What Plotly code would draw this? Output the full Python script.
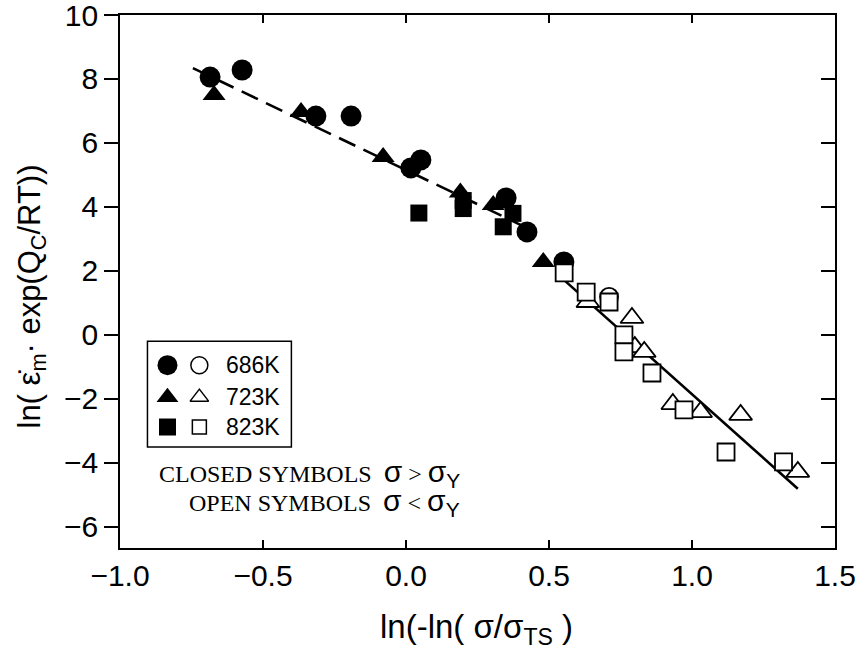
import plotly.graph_objects as go

# ---- data: ln(-ln(sigma/sigma_TS)) vs ln(strain-rate * exp(Qc/RT)) ----
# 686 K, closed (sigma > sigma_Y)
c686_x = [-0.685, -0.573, -0.315, -0.192, 0.017, 0.052, 0.350, 0.423, 0.552]
c686_y = [8.06, 8.28, 6.84, 6.84, 5.22, 5.47, 4.28, 3.22, 2.28]
# 686 K, open (sigma < sigma_Y)
o686_x = [0.710]
o686_y = [1.19]

# 723 K, closed
c723_x = [-0.671, -0.367, -0.080, 0.190, 0.305, 0.480]
c723_y = [7.50, 6.97, 5.56, 4.45, 4.06, 2.28]
# 723 K, open
o723_x = [0.636, 0.790, 0.800, 0.833, 0.933, 1.030, 1.170, 1.370]
o723_y = [1.03, 0.53, -0.38, -0.53, -2.16, -2.41, -2.50, -4.28]

# 823 K, closed
c823_x = [0.045, 0.200, 0.200, 0.340, 0.374]
c823_y = [3.81, 4.20, 3.95, 3.38, 3.80]
# 823 K, open
o823_x = [0.553, 0.630, 0.710, 0.762, 0.762, 0.860, 0.972, 1.119, 1.320]
o823_y = [1.94, 1.34, 1.03, 0.00, -0.53, -1.19, -2.34, -3.66, -3.97]

# fitted lines
fit_closed_x = [-0.745, 0.45]
fit_closed_y = [8.34, 3.23]
fit_open_x = [0.552, 1.37]
fit_open_y = [1.72, -4.81]

x_range = [-1.0, 1.5]
y_range = [-6.66, 10.0]
x_ticks = [-1.0, -0.5, 0.0, 0.5, 1.0, 1.5]
y_ticks = [-6, -4, -2, 0, 2, 4, 6, 8, 10]

legend_labels = ["686K", "723K", "823K"]
legend_symbols = ["circle", "triangle-up", "square"]
legend_sizes = [20, 19, 17]

SANS = "Liberation Sans, Arial, sans-serif"
SERIF = "Liberation Serif, Times New Roman, serif"

fig = go.Figure()

fig.add_trace(go.Scatter(x=fit_closed_x, y=fit_closed_y, mode="lines",
                         line=dict(color="black", width=2.6, dash="18px,9px"),
                         hoverinfo="skip"))
fig.add_trace(go.Scatter(x=fit_open_x, y=fit_open_y, mode="lines",
                         line=dict(color="black", width=2.6),
                         hoverinfo="skip"))


def closed(x, y, symbol, size):
    fig.add_trace(go.Scatter(x=x, y=y, mode="markers",
                             marker=dict(symbol=symbol, size=size, color="black",
                                         line=dict(width=0))))


def opened(x, y, symbol, size):
    fig.add_trace(go.Scatter(x=x, y=y, mode="markers",
                             marker=dict(symbol=symbol, size=size, color="white",
                                         line=dict(width=1.8, color="black"))))


closed(c686_x, c686_y, "circle", 21)
closed(c723_x, c723_y, "triangle-up", 20)
closed(c823_x, c823_y, "square", 17)
opened(o686_x, o686_y, "circle", 18)
opened(o723_x, o723_y, "triangle-up", 20)
opened(o823_x, o823_y, "square", 17)

# legend box drawn on an overlay axis spanning the plot area (0..1)
leg_rows = [0.343, 0.283, 0.227]
for i, (sym, sz) in enumerate(zip(legend_symbols, legend_sizes)):
    fig.add_trace(go.Scatter(x=[0.0664], y=[leg_rows[i]], mode="markers",
                             xaxis="x3", yaxis="y3",
                             marker=dict(symbol=sym, size=sz, color="black",
                                         line=dict(width=0))))
    fig.add_trace(go.Scatter(x=[0.111], y=[leg_rows[i]], mode="markers",
                             xaxis="x3", yaxis="y3",
                             marker=dict(symbol=sym, size=sz - 3, color="white",
                                         line=dict(width=1.5, color="black"))))
    fig.add_annotation(x=0.146, y=leg_rows[i], xref="x3", yref="y3",
                       text=legend_labels[i], showarrow=False, xanchor="left",
                       yanchor="middle", font=dict(family=SANS, size=23, color="black"))

fig.add_shape(type="rect", xref="x3", yref="y3", x0=0.0384, x1=0.2397,
              y0=0.1895, y1=0.388, line=dict(color="black", width=1.5))

sig = '<span style="font-family:Liberation Sans, Arial, sans-serif;font-size:30px">σ</span>'
sigY = ('<span style="font-family:Liberation Sans, Arial, sans-serif;font-size:30px">σ'
        '<sub>Y</sub></span>')
fig.add_annotation(x=0.478, y=0.1407, xref="x3", yref="y3", showarrow=False,
                   xanchor="right", yanchor="middle",
                   text=f"CLOSED SYMBOLS  {sig} &gt; {sigY}",
                   font=dict(family=SERIF, size=24, color="black"))
fig.add_annotation(x=0.478, y=0.0863, xref="x3", yref="y3", showarrow=False,
                   xanchor="right", yanchor="middle",
                   text=f"OPEN SYMBOLS  {sig} &lt; {sigY}",
                   font=dict(family=SERIF, size=24, color="black"))

# axis titles
fig.add_annotation(x=-0.1237, y=0.471, xref="paper", yref="paper", showarrow=False,
                   textangle=-90, xanchor="center", yanchor="middle",
                   text="ln( ε̇<sub>m</sub>· exp(Q<sub>C</sub>/RT))",
                   font=dict(family=SANS, size=31, color="black"))
fig.add_annotation(x=0.498, y=-0.152, xref="paper", yref="paper", showarrow=False,
                   xanchor="center", yanchor="middle",
                   text="ln(-ln( σ/σ<sub>TS</sub> )",
                   font=dict(family=SANS, size=33, color="black"))

fig.update_layout(
    width=858, height=657,
    margin=dict(l=119.5, r=23, t=15, b=109, autoexpand=False),
    paper_bgcolor="white", plot_bgcolor="white",
    showlegend=False,
    xaxis=dict(range=x_range, tickvals=x_ticks, tickformat=".1f",
               showgrid=False, zeroline=False, showline=True, linecolor="black",
               linewidth=1.8, mirror="ticks", ticks="inside", ticklen=8,
               tickwidth=1.8, tickcolor="black", ticklabeloverflow="allow",
               automargin=False,
               tickfont=dict(family=SANS, size=30, color="black")),
    yaxis=dict(range=y_range, tickvals=y_ticks, showgrid=False, zeroline=False,
               showline=True, linecolor="black", linewidth=1.8, ticks="outside",
               ticklen=14, tickwidth=1.8, tickcolor="black", ticklabeloverflow="allow",
               automargin=False,
               tickfont=dict(family=SANS, size=30, color="black")),
    yaxis2=dict(range=y_range, tickvals=y_ticks, overlaying="y", side="right",
                showgrid=False, zeroline=False, showline=True, linecolor="black",
                linewidth=1.8, ticks="inside", ticklen=14, tickwidth=1.8,
                tickcolor="black", showticklabels=False, automargin=False),
    xaxis3=dict(range=[0, 1], overlaying="x", visible=False),
    yaxis3=dict(range=[0, 1], overlaying="y", visible=False),
)

# anchor trace for the right-hand axis
fig.add_trace(go.Scatter(x=[None], y=[None], yaxis="y2", mode="markers",
                         hoverinfo="skip"))

fig.write_html("out.html")
